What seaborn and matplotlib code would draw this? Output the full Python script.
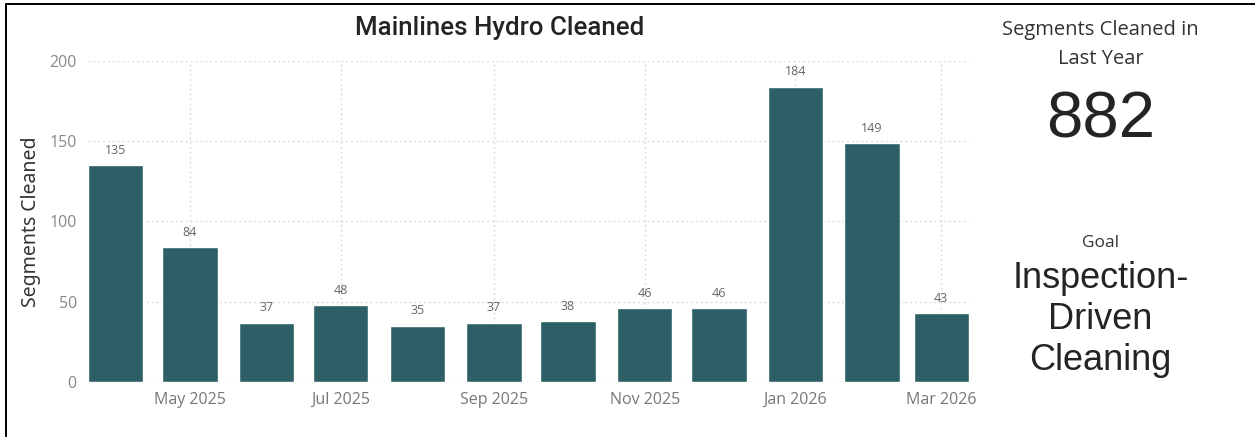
import matplotlib
matplotlib.use("Agg")
import matplotlib.pyplot as plt
import matplotlib.dates as mdates
from matplotlib.lines import Line2D
import seaborn as sns
import pandas as pd

# ---- data ----
months = ["2025-04-01", "2025-05-01", "2025-06-01", "2025-07-01", "2025-08-01", "2025-09-01",
          "2025-10-01", "2025-11-01", "2025-12-01", "2026-01-01", "2026-02-01", "2026-03-01"]
segments = [135, 84, 37, 48, 35, 37, 38, 46, 46, 184, 149, 43]
tick_months = ["2025-05-01", "2025-07-01", "2025-09-01", "2025-11-01", "2026-01-01", "2026-03-01"]
tick_labels = ["May 2025", "Jul 2025", "Sep 2025", "Nov 2025", "Jan 2026", "Mar 2026"]
y_ticks = [0, 50, 100, 150, 200]
kpi_title = "Segments Cleaned in\nLast Year"
kpi_value = "882"
goal_title = "Goal"
goal_value = "Inspection-\nDriven\nCleaning"

sns.set_theme(style="white")
plt.rcParams["font.family"] = ["Open Sans", "DejaVu Sans"]

bar_color = "#2D5F66"

xnum = mdates.date2num(pd.to_datetime(months).to_pydatetime())
df = pd.DataFrame({"x": xnum, "y": segments})

fig = plt.figure(figsize=(12.55, 4.37), dpi=100)
ax = fig.add_axes([0.0701, 0.1259, 0.7020, 0.7345])

sns.barplot(data=df, x="x", y="y", native_scale=True, color=bar_color,
            saturation=1, ax=ax, width=0.8)

half = 11.2
ax.set_xlim(xnum[0] - half, xnum[-1] + half)
ax.set_ylim(0, 200)

tnum = mdates.date2num(pd.to_datetime(tick_months).to_pydatetime())
ax.set_xticks(tnum)
ax.set_xticklabels(tick_labels, fontsize=11.5, color="#777777")
ax.set_yticks(y_ticks)
ax.set_yticklabels([str(v) for v in y_ticks], fontsize=11.5, color="#888888")
ax.tick_params(axis="x", length=0, pad=7)
ax.tick_params(axis="y", length=0, pad=8)

ax.grid(True, axis="both", linestyle=(0, (1.5, 2)), color="#dddddd", linewidth=1)
ax.set_axisbelow(True)
for s in ax.spines.values():
    s.set_visible(False)

ax.set_xlabel("")
ax.set_ylabel("Segments Cleaned", fontsize=14, color="#333333",
              family=["Noto Sans", "DejaVu Sans"], labelpad=6)

ax.bar_label(ax.containers[0], padding=6, fontsize=9, color="#666666")

fig.text(0.398, 0.935, "Mainlines Hydro Cleaned", ha="center", va="center",
         fontsize=18.6, color="#252423", family=["Roboto", "DejaVu Sans"], fontweight="medium")

# KPI panel
fig.text(0.877, 0.898, kpi_title, ha="center", va="center", fontsize=14.5,
         color="#333333", linespacing=1.55)
fig.text(0.877, 0.724, kpi_value, ha="center", va="center", fontsize=47,
         color="#252423", family=["Liberation Sans", "DejaVu Sans"])
fig.text(0.877, 0.444, goal_title, ha="center", va="center", fontsize=12.5,
         color="#333333")
fig.text(0.877, 0.268, goal_value, ha="center", va="center", fontsize=26,
         color="#252423", family=["Liberation Sans", "DejaVu Sans"], linespacing=1.22)

# frame
fig.add_artist(Line2D([0.0048, 1.0], [0.9908, 0.9908], color="black", linewidth=1.4, transform=fig.transFigure))
fig.add_artist(Line2D([0.0048, 0.0048], [0.0, 0.9908], color="black", linewidth=1.4, transform=fig.transFigure))

fig.savefig("out.png", dpi=100, facecolor="white")
